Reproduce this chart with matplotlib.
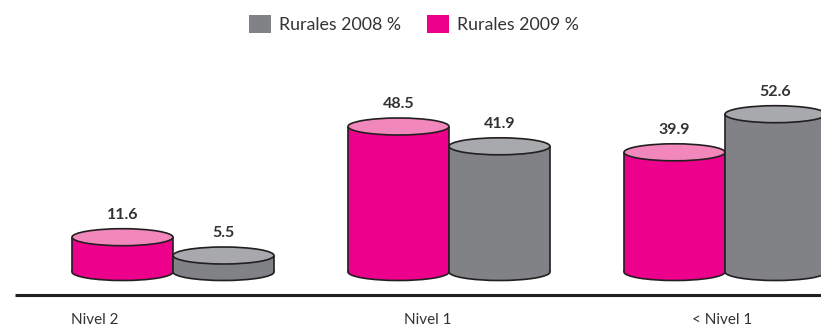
import matplotlib
matplotlib.use("Agg")
import matplotlib.pyplot as plt
from matplotlib.patches import Ellipse, Rectangle, Patch

plt.rcParams['font.family'] = ['Lato', 'DejaVu Sans']

categories = ["Nivel 2", "Nivel 1", "< Nivel 1"]
rurales_2009 = [11.6, 48.5, 39.9]
rurales_2008 = [5.5, 41.9, 52.6]
series_names = ["Rurales 2008 %", "Rurales 2009 %"]

PINK_SIDE, PINK_TOP = "#EC008C", "#F287BC"
GRAY_SIDE, GRAY_TOP = "#808285", "#A7A9AC"
EDGE = "#231F20"
TEXT = "#333333"

W, H = 821, 336
fig = plt.figure(figsize=(W / 100, H / 100), dpi=100)
ax = fig.add_axes([0, 0, 1, 1])

# 1 value unit = 3 px, group spacing = 276 px
px_per_unit = 3.0
group_px = 276.0
base_px = 272.0
x0_px = 173.0
ax.set_xlim(-x0_px / group_px, (W - x0_px) / group_px)
ax.set_ylim(-(H - base_px) / px_per_unit, base_px / px_per_unit)
ax.axis("off")

bar_w = 101 / group_px
ell_h = 17 / px_per_unit


def cylinder(xc, value, side, top):
    left = xc - bar_w / 2
    ax.add_patch(Ellipse((xc, 0), bar_w, ell_h, facecolor=side,
                         edgecolor=EDGE, lw=1.2, zorder=2))
    ax.add_patch(Rectangle((left, 0), bar_w, value, facecolor=side,
                           edgecolor="none", zorder=2))
    ax.plot([left, left], [0, value], color=EDGE, lw=1.2, zorder=2,
            solid_capstyle="butt")
    ax.plot([left + bar_w, left + bar_w], [0, value], color=EDGE, lw=1.2,
            zorder=2, solid_capstyle="butt")
    ax.add_patch(Ellipse((xc, value), bar_w, ell_h, facecolor=top,
                         edgecolor=EDGE, lw=1.2, zorder=2))
    ax.text(xc, value + 7.5, f"{value:.1f}", ha="center", va="center",
            fontsize=11.5, fontweight="bold", color=TEXT, zorder=3)


for i, (v09, v08) in enumerate(zip(rurales_2009, rurales_2008)):
    cylinder(i - bar_w / 2, v09, PINK_SIDE, PINK_TOP)
    cylinder(i + bar_w / 2, v08, GRAY_SIDE, GRAY_TOP)

# baseline
y_line = (base_px - 295) / px_per_unit
ax.plot([(15 - x0_px) / group_px, (W - x0_px) / group_px], [y_line, y_line],
        color=EDGE, lw=2.2, zorder=1, solid_capstyle="butt")

# category labels
label_px = [95, 428, 722]
y_lab = (base_px - 320) / px_per_unit
for cat, lx in zip(categories, label_px):
    ax.text((lx - x0_px) / group_px, y_lab, cat, ha="center", va="center",
            fontsize=11, color=TEXT)

handles = [Patch(facecolor=GRAY_SIDE, edgecolor="none"),
           Patch(facecolor=PINK_SIDE, edgecolor="none")]
fig.legend(handles, series_names, loc="center", bbox_to_anchor=(414 / W, 1 - 24 / H),
           ncol=2, frameon=False, fontsize=12.8, handlelength=1.2, handleheight=1.2,
           handletextpad=0.45, columnspacing=1.5, labelcolor=TEXT)

fig.savefig("out.png", dpi=100)
